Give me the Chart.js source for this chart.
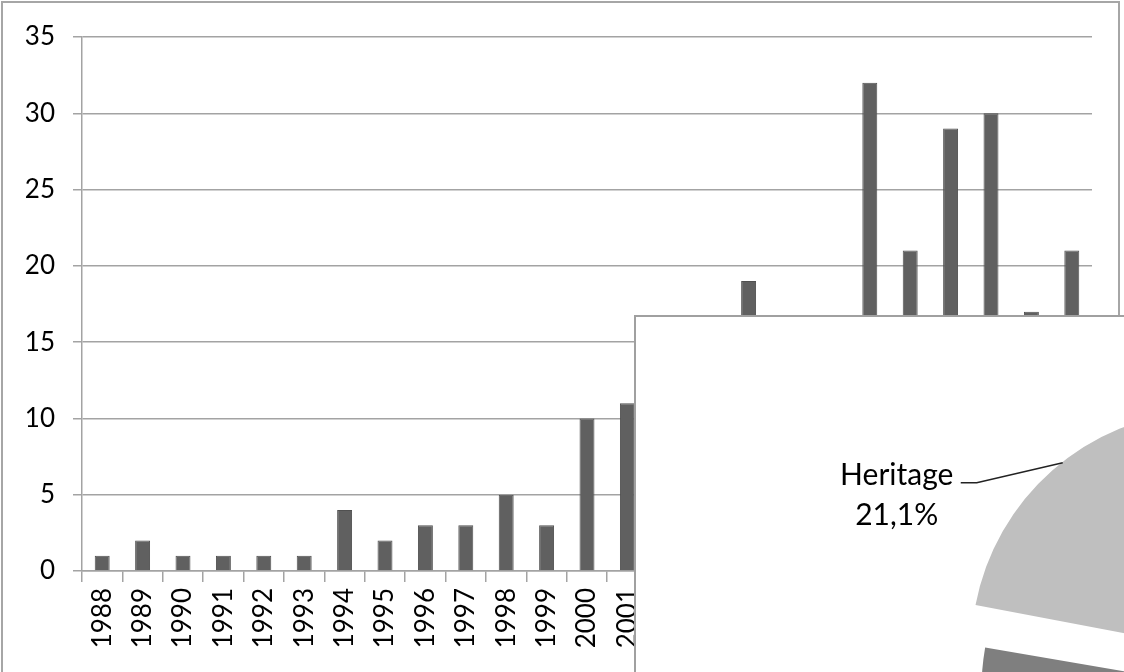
<!DOCTYPE html>
<html>
<head>
<meta charset="utf-8">
<script src="https://cdn.jsdelivr.net/npm/chart.js@4"></script>
<style>
    body { margin: 0; width: 1124px; height: 672px; overflow: hidden; background: #fff; position: relative; }
    #frame { position: absolute; left: 1px; top: 1px; width: 1119px; height: 800px; border: 2px solid #a6a6a6; box-sizing: border-box; }
    #barChart { position: absolute; left: 0; top: 0; }
    #piePanel { position: absolute; left: 634px; top: 315px; width: 700px; height: 600px; border: 2px solid #a0a0a0; background: #fff; overflow: hidden; }
    #pieChart { position: absolute; left: -2px; top: -1px; }
</style>
</head>
<body>
<div id="frame"></div>
<canvas id="barChart" width="1124" height="672"></canvas>
<div id="piePanel"><canvas id="pieChart" width="1190" height="710"></canvas></div>

<script>
// Данные столбчатой диаграммы
const years = ['1988', '1989', '1990', '1991', '1992', '1993', '1994', '1995', '1996', '1997',
    '1998', '1999', '2000', '2001', '2002', '2003', '2004', '2005', '2006', '2007',
    '2008', '2009', '2010', '2011', '2012'];
const counts = [1, 2, 1, 1, 1, 1, 4, 2, 3, 3, 5, 3, 10, 11, 12, 14, 19, 15, 13, 32, 21, 29, 30, 17, 21];
const yTicks = [0, 5, 10, 15, 20, 25, 30, 35];

// Данные круговой диаграммы (видна только часть)
const pieLabels = ['Heritage', 'Other'];
const pieValues = [21.1, 78.9];
const pieColors = ['#bfbfbf', '#7f7f7f'];

const fontFamily = 'Lato, "Noto Sans", sans-serif';
const gridColor = '#a3a3a3';

new Chart(document.getElementById('barChart').getContext('2d'), {
    type: 'bar',
    data: {
        labels: years,
        datasets: [{
            data: counts,
            backgroundColor: '#606060',
            borderColor: '#505050',
            borderWidth: 1,
            barPercentage: 0.37,
            categoryPercentage: 1
        }]
    },
    options: {
        responsive: false,
        animation: false,
        layout: { padding: { left: 2, top: 37, right: 32, bottom: 0 } },
        plugins: { legend: { display: false }, tooltip: { enabled: false } },
        scales: {
            x: {
                afterFit: s => { s.height = 101; },
                grid: { offset: true, drawOnChartArea: false, color: gridColor, lineWidth: 1.5, tickLength: 11 },
                border: { color: gridColor, width: 1.5 },
                ticks: {
                    autoSkip: false, maxRotation: 90, minRotation: 90, padding: 6,
                    color: '#000', font: { family: fontFamily, size: 26 }
                }
            },
            y: {
                min: 0,
                max: 35,
                afterFit: s => { s.width = 80; },
                afterBuildTicks: s => { s.ticks = yTicks.map(v => ({ value: v })); },
                grid: { color: gridColor, lineWidth: 1.5, tickLength: 9 },
                border: { color: gridColor, width: 1.5 },
                ticks: { padding: 18, color: '#000', font: { family: fontFamily, size: 26 } }
            }
        }
    }
});

// Подпись с выноской для сектора Heritage
const leaderLabel = {
    id: 'leaderLabel',
    afterDatasetsDraw(chart) {
        const ctx = chart.ctx;
        const arc = chart.getDatasetMeta(0).data[0];
        const mid = (arc.startAngle + arc.endAngle) / 2;
        const at = arc.startAngle + 0.54 * (arc.endAngle - arc.startAngle);
        const shift = (arc.options.offset || 0) / 4;
        const r = arc.outerRadius;
        const cx = arc.x + Math.cos(mid) * shift;
        const cy = arc.y + Math.sin(mid) * shift;
        const px = cx + Math.cos(at) * r;
        const py = cy + Math.sin(at) * r;
        const total = pieValues.reduce((a, b) => a + b, 0);
        const pct = (pieValues[0] / total * 100).toFixed(1).replace('.', ',') + '%';

        ctx.save();
        ctx.strokeStyle = '#222';
        ctx.lineWidth = 1.5;
        ctx.beginPath();
        ctx.moveTo(px, py);
        ctx.lineTo(px - 86, py + 20);
        ctx.lineTo(px - 102, py + 20);
        ctx.stroke();
        ctx.fillStyle = '#000';
        ctx.font = '30px ' + fontFamily;
        ctx.textAlign = 'center';
        ctx.textBaseline = 'alphabetic';
        ctx.fillText(pieLabels[0], px - 166, py + 22);
        ctx.fillText(pct, px - 166, py + 62);
        ctx.restore();
    }
};

new Chart(document.getElementById('pieChart').getContext('2d'), {
    type: 'pie',
    data: {
        labels: pieLabels,
        datasets: [{
            data: pieValues,
            backgroundColor: pieColors,
            borderWidth: 0,
            offset: 114
        }]
    },
    options: {
        responsive: false,
        animation: false,
        radius: 238,
        rotation: 280.7,
        layout: { padding: 0 },
        plugins: { legend: { display: false }, tooltip: { enabled: false } }
    },
    plugins: [leaderLabel]
});
</script>
</body>
</html>
